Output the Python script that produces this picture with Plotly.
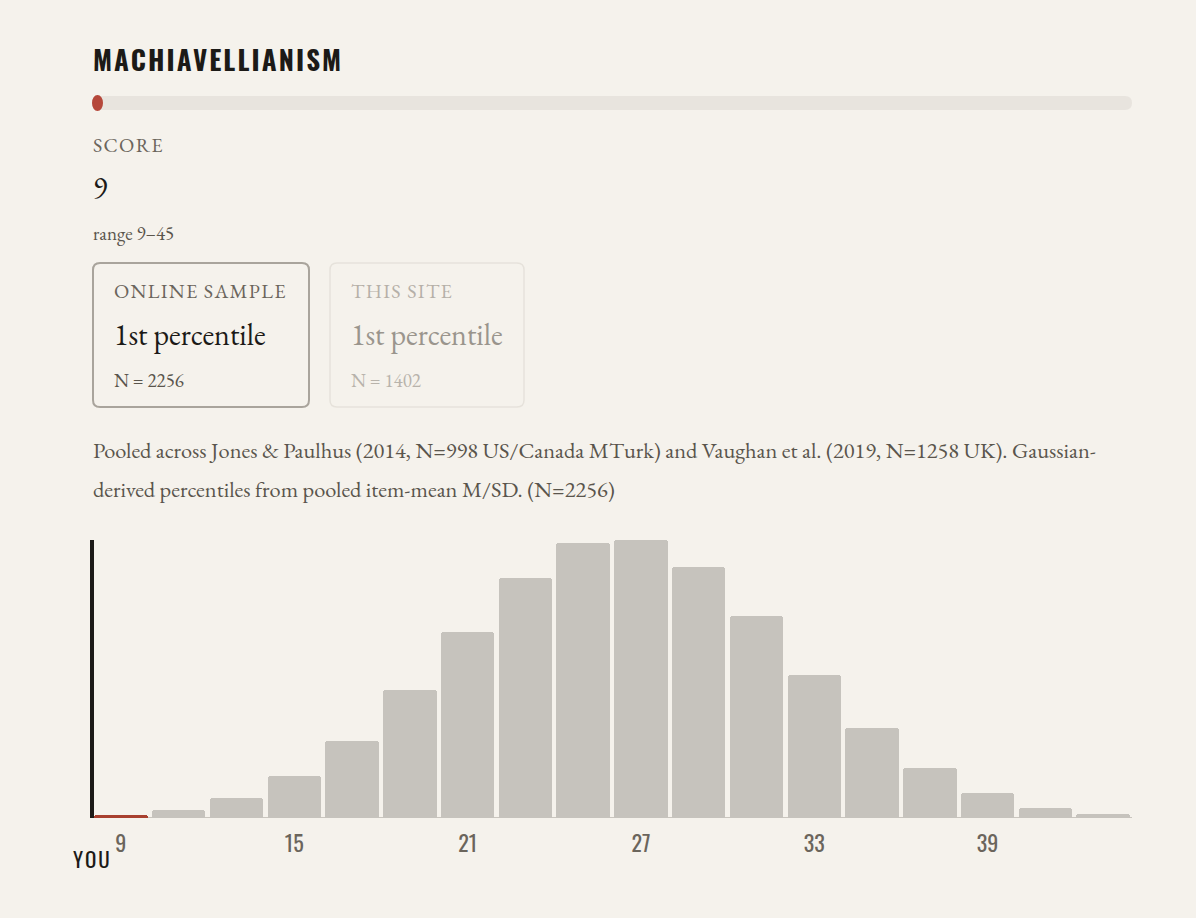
import plotly.graph_objects as go

# ---------------- data ----------------
title = "MACHIAVELLIANISM"
score = 9
score_min, score_max = 9, 45
bin_centers = [9, 11, 13, 15, 17, 19, 21, 23, 25, 27, 29, 31, 33, 35, 37, 39, 41, 43]
bin_pct = [0.16, 0.41, 0.97, 2.09, 3.81, 6.27, 9.13, 11.80, 13.52, 13.67,
           12.34, 9.92, 7.01, 4.45, 2.48, 1.25, 0.51, 0.21]
tick_vals = [9, 15, 21, 27, 33, 39]
tick_text = ["9", "15", "21", "27", "33", "39"]
online_label, online_pct, online_n = "ONLINE SAMPLE", "1st percentile", "N = 2256"
site_label, site_pct, site_n = "THIS SITE", "1st percentile", "N = 1402"
note_lines = [
    "Pooled across Jones & Paulhus (2014, N=998 US/Canada MTurk) and Vaughan et al. (2019, N=1258 UK). Gaussian-",
    "derived percentiles from pooled item-mean M/SD. (N=2256)",
]

# ---------------- style ----------------
W, H = 1196, 918
BG = "#f5f2ec"
SERIF = "EB Garamond, Liberation Serif, DejaVu Serif, serif"
COND = "Oswald, Liberation Sans Narrow, DejaVu Sans Condensed, sans-serif"
INK = "#1c1a17"
MUTED = "#6b655c"
SOFT = "#5a554c"
BAR = "#c6c3bd"
RED = "#a8402f"


def px(x):
    return x / W


def py(y):
    return 1 - y / H


def rrect_path(x0, y0, x1, y1, r):
    pts = [
        ("M", [(x0 + r, y0)]), ("L", [(x1 - r, y0)]), ("Q", [(x1, y0), (x1, y0 + r)]),
        ("L", [(x1, y1 - r)]), ("Q", [(x1, y1), (x1 - r, y1)]), ("L", [(x0 + r, y1)]),
        ("Q", [(x0, y1), (x0, y1 - r)]), ("L", [(x0, y0 + r)]), ("Q", [(x0, y0), (x0 + r, y0)]),
    ]
    s = ""
    for cmd, ps in pts:
        s += cmd + " " + " ".join(f"{px(a):.5f},{py(b):.5f}" for a, b in ps) + " "
    return s + "Z"


def sp(text, spacing):
    return f'<span style="letter-spacing:{spacing}px">{text}</span>'


bar_colors = [RED if abs(c - score) < 1 else BAR for c in bin_centers]

fig = go.Figure()
fig.add_trace(go.Bar(
    x=bin_centers, y=bin_pct, width=1.85,
    marker=dict(color=bar_colors, line=dict(width=0), cornerradius=3),
    hoverinfo="skip",
))

x_left, x_right = 92, 1132
y_base, y_top = 818, 540
ymax = max(bin_pct)

fig.update_layout(
    width=W, height=H,
    margin=dict(l=0, r=0, t=0, b=0),
    paper_bgcolor=BG, plot_bgcolor=BG,
    showlegend=False,
    bargap=0,
    xaxis=dict(domain=[px(x_left), px(x_right)], range=[8, 44],
               tickvals=tick_vals, ticktext=tick_text,
               tickfont=dict(family=COND, size=22, color=MUTED),
               ticklabelstandoff=11,
               showgrid=False, zeroline=False, showline=False, ticks="",
               fixedrange=True),
    yaxis=dict(domain=[py(y_base), py(y_top)], range=[0, ymax], visible=False,
               fixedrange=True),
)

shapes = []
# progress track
shapes.append(dict(type="path", xref="paper", yref="paper",
                   path=rrect_path(92, 96, 1132, 110, 7),
                   fillcolor="#e8e4de", line=dict(width=0), layer="below"))
frac = (score - score_min) / (score_max - score_min)
dot_x = 92 + frac * (1132 - 92)
shapes.append(dict(type="circle", xref="paper", yref="paper",
                   x0=px(dot_x), x1=px(dot_x + 11), y0=py(95), y1=py(111),
                   fillcolor="#b5473a", line=dict(width=0)))
# boxes
shapes.append(dict(type="path", xref="paper", yref="paper",
                   path=rrect_path(93, 263, 309, 407, 7),
                   fillcolor="rgba(0,0,0,0)", line=dict(color="#a9a49c", width=2)))
shapes.append(dict(type="path", xref="paper", yref="paper",
                   path=rrect_path(330, 263, 524, 407, 7),
                   fillcolor="rgba(0,0,0,0)", line=dict(color="#e6e2db", width=1.5)))
# baseline
shapes.append(dict(type="line", xref="x domain", yref="y", x0=0, x1=1, y0=0, y1=0,
                   line=dict(color="#c9c5be", width=2), layer="below"))
# you marker (left edge of the scale)
shapes.append(dict(type="line", xref="x domain", yref="y domain", x0=0, x1=0, y0=0, y1=1,
                   line=dict(color=INK, width=4)))
fig.update_layout(shapes=shapes)

anns = []


def ann(text, x, y, size, color, family=SERIF, xanchor="left"):
    anns.append(dict(text=text, x=px(x), y=py(y),
                     xref="paper", yref="paper", xanchor=xanchor, yanchor="middle",
                     showarrow=False, font=dict(family=family, size=size, color=color)))


ann("<b>" + sp(title, 2.1) + "</b>", 91, 59, 27, INK, family=COND)
ann(sp("SCORE", 1.3), 91, 145, 20, MUTED)
ann(str(score), 91, 187, 30, INK)
ann(f"range {score_min}\u2013{score_max}", 91, 233, 19, SOFT)
ann(sp(online_label, 1.3), 112, 291, 20, MUTED)
ann(online_pct, 112, 335, 30, INK)
ann(online_n, 112, 380, 19, SOFT)
ann(sp(site_label, 1.3), 349, 291, 20, "#b5b0a8")
ann(site_pct, 349, 335, 30, "#9a958d")
ann(site_n, 349, 380, 19, "#b8b3ab")
ann(note_lines[0], 91, 450, 22.4, SOFT)
ann(note_lines[1], 91, 489, 22.4, SOFT)
anns.append(dict(text=sp("YOU", 2), x=0, y=py(858), xref="x domain", yref="paper",
                 xanchor="center", yanchor="middle", showarrow=False,
                 font=dict(family=COND, size=21, color=INK)))
fig.update_layout(annotations=anns)

fig.write_html(
    "out.html",
    config={"displayModeBar": False},
    post_script="document.body.style.margin='0';document.body.style.background='#f5f2ec';",
)
